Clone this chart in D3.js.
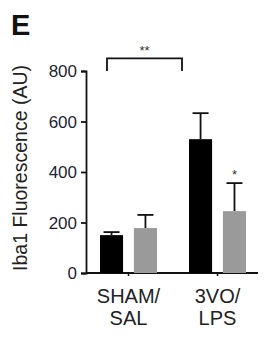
<!DOCTYPE html>
<html>
<head>
<meta charset="utf-8">
<script src="https://cdn.jsdelivr.net/npm/d3@7"></script>
<style>
body { margin: 0; background: #fff; }
text { font-family: "Liberation Sans", Arial, sans-serif; }
</style>
</head>
<body>
<div id="chart"></div>
<script>
// data
var groups = ["SHAM/SAL", "3VO/LPS"];
var groupLines = [["SHAM/", "SAL"], ["3VO/", "LPS"]];
var series = ["control", "treated"];
var means = [[150, 178], [530, 245]];
var errors = [[12, 52], [103, 111]];
var yTicks = [0, 200, 400, 600, 800];
var colors = ["#000000", "#9a9a9a"];

var svgwidth = 264, svgheight = 340;
var margin = { top: 71, right: 6, bottom: 67, left: 86 };
var width = svgwidth - margin.left - margin.right;
var height = svgheight - margin.top - margin.bottom;

var svg = d3.select("#chart").append("svg")
    .attr("width", svgwidth)
    .attr("height", svgheight);

var g = svg.append("g")
    .attr("transform", `translate(${margin.left},${margin.top})`);

var x0 = d3.scaleBand().domain(groups).range([14, 160]).paddingInner(0.36).paddingOuter(0);
var x1 = d3.scaleBand().domain(series).range([0, x0.bandwidth()]).paddingInner(0.32);
var y = d3.scaleLinear().domain([0, 800]).range([height, 0]);

// y axis
var yAxis = d3.axisLeft(y).tickValues(yTicks).tickSize(5).tickPadding(4);
var ya = g.append("g").call(yAxis);
ya.select(".domain").attr("stroke", "#111").attr("stroke-width", 1.8);
ya.selectAll(".tick line").attr("stroke", "#111").attr("stroke-width", 1.8);
ya.selectAll(".tick text").attr("font-size", 17).attr("fill", "#1f1f33")
    .attr("dy", "0.35em");

// x axis
var xa = g.append("g").attr("transform", `translate(0,${height})`)
    .call(d3.axisBottom(x0).tickSize(3).tickFormat(""));
xa.select(".domain").attr("d", "M0,0H" + width).attr("stroke", "#111").attr("stroke-width", 1.8);
xa.selectAll(".tick line").attr("stroke", "#111").attr("stroke-width", 1.5);

// bars
groups.forEach(function (grp, gi) {
    var gg = g.append("g").attr("transform", `translate(${x0(grp)},0)`);
    series.forEach(function (s, si) {
        var v = means[gi][si], e = errors[gi][si];
        var cx = x1(s) + x1.bandwidth() / 2;
        gg.append("line")
            .attr("x1", cx).attr("x2", cx)
            .attr("y1", y(v)).attr("y2", y(v + e))
            .attr("stroke", "#111").attr("stroke-width", 1.8);
        gg.append("line")
            .attr("x1", cx - 8).attr("x2", cx + 8)
            .attr("y1", y(v + e)).attr("y2", y(v + e))
            .attr("stroke", "#111").attr("stroke-width", 1.8);
        gg.append("rect")
            .attr("x", x1(s)).attr("y", y(v))
            .attr("width", x1.bandwidth()).attr("height", height - y(v))
            .attr("fill", colors[si]);
    });
    // group labels
    var t = g.append("text")
        .attr("x", x0(grp) + x0.bandwidth() / 2)
        .attr("y", height + 30)
        .attr("text-anchor", "middle")
        .attr("font-size", 20)
        .attr("fill", "#222");
    groupLines[gi].forEach(function (line, li) {
        t.append("tspan").attr("x", x0(grp) + x0.bandwidth() / 2)
            .attr("dy", li === 0 ? 0 : 22).text(line);
    });
});

// significance
var bx1 = 107 - margin.left;
var bx2 = 182 - margin.left;
g.append("path")
    .attr("d", `M${bx1},${y(800)}V${y(850)}H${bx2}V${y(800)}`)
    .attr("fill", "none").attr("stroke", "#111").attr("stroke-width", 1.8);
g.append("text").attr("x", (bx1 + bx2) / 2).attr("y", y(850) - 3)
    .attr("text-anchor", "middle").attr("font-size", 13).attr("fill", "#333").text("**");
g.append("text")
    .attr("x", x0(groups[1]) + x1("treated") + x1.bandwidth() / 2)
    .attr("y", y(means[1][1] + errors[1][1]) - 4)
    .attr("text-anchor", "middle").attr("font-size", 13).attr("fill", "#333").text("*");

// y label
svg.append("text")
    .attr("transform", "rotate(-90)")
    .attr("x", -168).attr("y", 27)
    .attr("text-anchor", "middle")
    .attr("font-size", 19.5)
    .attr("fill", "#222")
    .text("Iba1 Fluorescence (AU)");

// panel letter
svg.append("text").attr("x", 11).attr("y", 35)
    .attr("font-size", 29).attr("font-weight", "bold").attr("fill", "#111").text("E");
</script>
</body>
</html>
